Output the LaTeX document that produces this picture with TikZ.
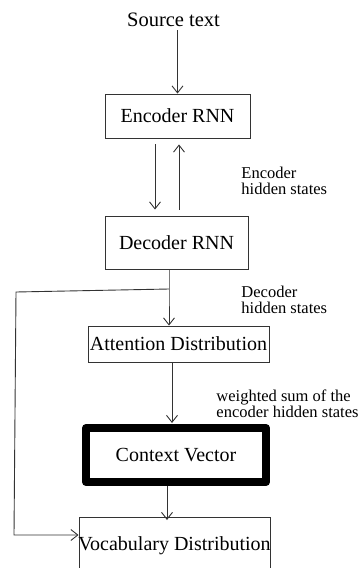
\documentclass[tikz,border=0pt]{standalone}
\usepackage{fontspec}
\setmainfont{Liberation Serif}
\usetikzlibrary{arrows.meta}

\begin{document}
\begin{tikzpicture}[x=1pt, y=-1pt,
                line width=0.9pt,
                arr/.style={draw=black!80, -{Straight Barb[length=7pt,width=11pt]}},
                box/.style={draw=black!80, rectangle, inner sep=0pt, font=\fontsize{20}{22}\selectfont},
                note/.style={align=left, anchor=west, inner sep=0pt, font=\fontsize{16.5}{16.5}\selectfont}
            ]
            \useasboundingbox (0,0) rectangle (361,568);
            \clip (0,0) rectangle (361,568);
            % the stack of blocks
            \node[inner sep=0pt, font=\fontsize{20.5}{22}\selectfont] (src) at (173.5,20) {Source text};
            \node[box, minimum width=145pt, minimum height=44pt] (enc) at (177.5,116) {Encoder RNN};
            \node[box, minimum width=143pt, minimum height=53pt] (dec) at (176.5,242.5) {Decoder RNN};
            \node[box, minimum width=181pt, minimum height=36pt] (att) at (178.5,344) {\makebox[0pt]{Attention Distribution}};
            \node[box, draw=black, line width=8pt, line join=round,
                  minimum width=180pt, minimum height=54pt] (ctx) at (176,455) {Context Vector};
            \node[box, anchor=north, minimum width=191pt, minimum height=56pt] (voc) at (174.5,517)
                {\makebox[0pt]{Vocabulary Distribution}};
            % side notes
            \node[note] (enclbl) at (241,181) {Encoder\\hidden states};
            \node[note] (declbl) at (241,300) {Decoder\\hidden states};
            \node[note] (ctxlbl) at (216,404) {weighted sum of the\\encoder hidden states};
            % connectors
            \coordinate (split) at (169,289);
            \coordinate (bendtop) at (16,292);
            \coordinate (bendlow) at (14,535);
            \draw[arr, shorten <=3pt] (enc.north |- src.south) -- (enc.north);
            \draw[arr, shorten <=6pt, shorten >=6pt] ([xshift=-22.5pt]enc.south) -- ([xshift=-22.5pt]enc.south |- dec.north);
            \draw[arr, shorten <=6pt, shorten >=6pt] ([xshift=1.5pt]enc.south |- dec.north) -- ([xshift=1.5pt]enc.south);
            \draw[arr] ([xshift=-7.5pt]dec.south) -- (split) -- (att.north -| split);
            \draw[arr] (split) -- (bendtop) -- (bendlow) -- (bendlow -| voc.west);
            \draw[arr, shorten >=1pt] ([xshift=-6.5pt]att.south) -- ([xshift=-6.5pt]att.south |- ctx.north);
            \draw[arr, shorten >=-3pt] ([xshift=-9pt]ctx.south) -- ([xshift=-9pt]ctx.south |- voc.north);
        \end{tikzpicture}
\end{document}
